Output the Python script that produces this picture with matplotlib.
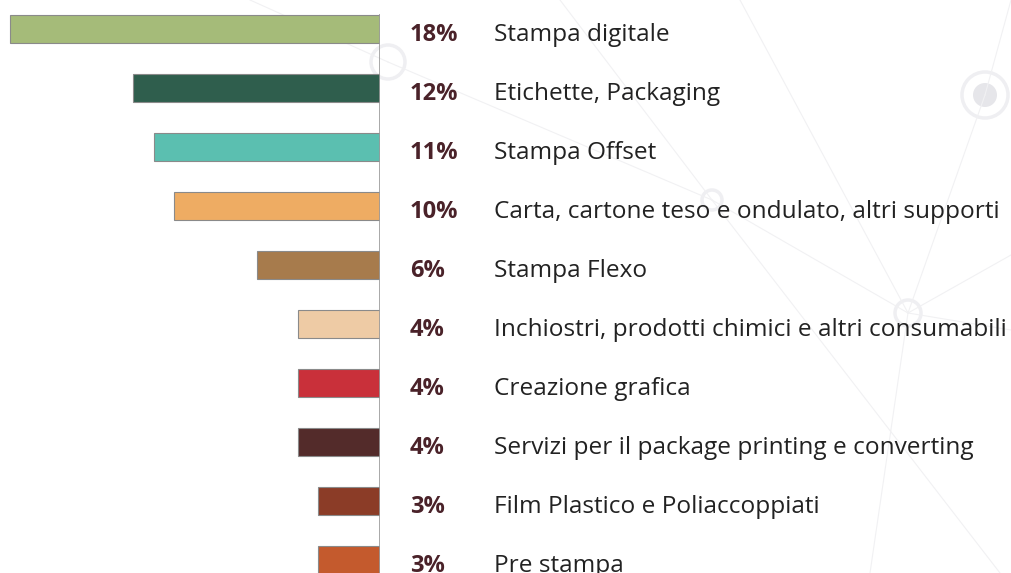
import matplotlib.pyplot as plt
from matplotlib.transforms import blended_transform_factory
from matplotlib.patches import Circle
from matplotlib.lines import Line2D

# data
categories = ["Stampa digitale", "Etichette, Packaging", "Stampa Offset",
              "Carta, cartone teso e ondulato, altri supporti", "Stampa Flexo",
              "Inchiostri, prodotti chimici e altri consumabili", "Creazione grafica",
              "Servizi per il package printing e converting",
              "Film Plastico e Poliaccoppiati", "Pre stampa"]
values = [18, 12, 11, 10, 6, 4, 4, 4, 3, 3]
colors = ["#a5bb79", "#2f5e4d", "#5bbfb0", "#eeac63", "#a77b4c",
          "#eecba5", "#c9303a", "#532b2a", "#8b3c27", "#c45a2d"]

W, H = 1011, 573
fig = plt.figure(figsize=(W / 100, H / 100), dpi=100)
fig.patch.set_facecolor("white")

# faint background network decoration
deco = fig.add_axes([0, 0, 1, 1], zorder=0)
deco.set_xlim(0, W)
deco.set_ylim(H, 0)
deco.axis("off")
lc = "#f1f1f3"
for (x0, y0, x1, y1) in [(388, 62, 712, 200), (560, 0, 712, 200), (712, 200, 908, 313),
                         (740, 0, 908, 313), (908, 313, 1011, 255), (908, 313, 1011, 330),
                         (985, 95, 908, 313), (985, 95, 1011, 0), (908, 313, 870, 573),
                         (388, 62, 250, 0), (712, 200, 1000, 573)]:
    deco.add_line(Line2D([x0, x1], [y0, y1], color=lc, lw=0.8))
for (cx, cy, r) in [(388, 62, 17), (712, 200, 10), (908, 313, 13), (985, 95, 23)]:
    deco.add_patch(Circle((cx, cy), r, fill=False, ec="#efeff2", lw=2.5))
deco.add_patch(Circle((985, 95), 12, color="#e6e6ea", lw=0))

# main bars
ax = fig.add_axes([0, 0, 380 / W, 1], zorder=1)
ax.patch.set_alpha(0)
y = list(range(len(values)))
ax.barh(y, values, height=0.49, color=colors, edgecolor="#8a8a8a", linewidth=0.8)
ax.set_xlim(380 / (370 / 18), 0)
ax.set_ylim((H - 29) / 59, -29 / 59)
ax.vlines(0, -0.25, (H - 29) / 59, color="#9a9a9a", lw=1.2)
for s in ax.spines.values():
    s.set_visible(False)
ax.set_xticks([])
ax.set_yticks([])

tr = blended_transform_factory(fig.transFigure, ax.transData)
for i, (v, c) in enumerate(zip(values, categories)):
    ax.text(410 / W, i + 0.2, f"{v}%", transform=tr, ha="left", va="baseline",
            fontsize=17, fontweight="bold", color="#4a2229", family="Open Sans",
            clip_on=False)
    ax.text(494 / W, i + 0.2, c, transform=tr, ha="left", va="baseline",
            fontsize=17.6, color="#222222", family="Open Sans", clip_on=False)

fig.savefig("out.png", dpi=100)
